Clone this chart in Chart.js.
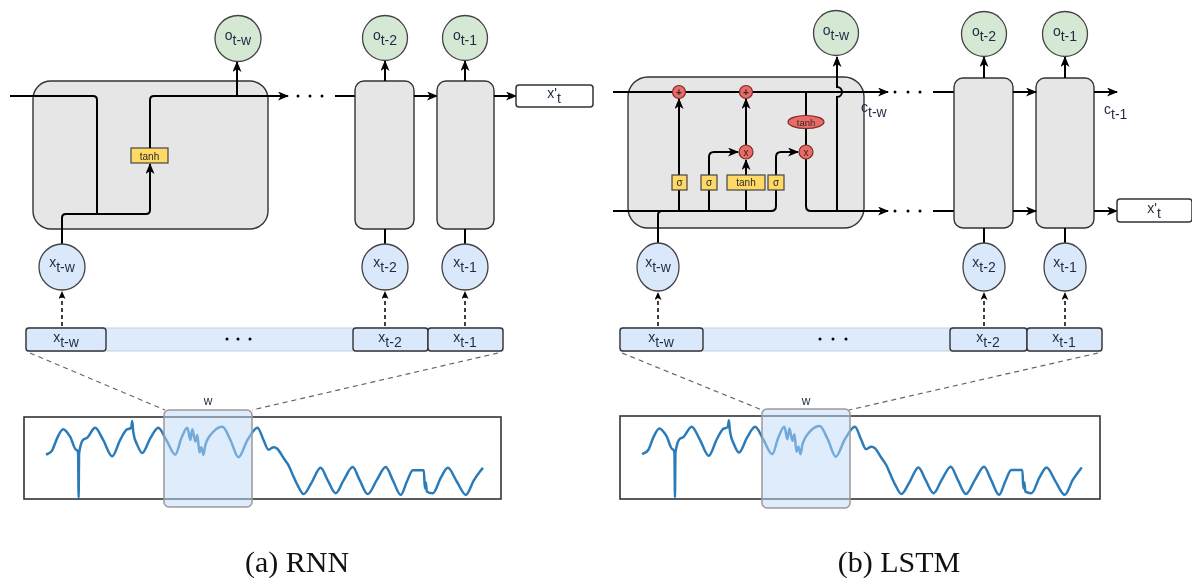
<!DOCTYPE html>
<html>
<head>
<meta charset="utf-8">
<script src="https://cdn.jsdelivr.net/npm/chart.js@4.4.0/dist/chart.umd.min.js"></script>
<style>
  html, body { margin: 0; padding: 0; background: #fff; }
  #page { position: relative; width: 1192px; height: 578px; overflow: hidden; }
  .plot { position: absolute; }
  #diagram { position: absolute; left: 0; top: 0; }
  .ln { fill: none; stroke: #000; stroke-width: 2; }
  .cell { fill: #e6e6e6; stroke: #333; stroke-width: 1.4; }
  .oc { fill: #d5e8d4; stroke: #444; stroke-width: 1.3; }
  .xc { fill: #dae8fc; stroke: #444; stroke-width: 1.3; }
  .gate { fill: #ffd966; stroke: #444; stroke-width: 1.2; }
  .op { fill: #ea6b66; stroke: #7a2a27; stroke-width: 1.2; }
  .lbl { font-family: "Liberation Sans", Arial, sans-serif; font-size: 14px; fill: #1f2a44; }
  .small { font-family: "Liberation Sans", Arial, sans-serif; font-size: 10px; fill: #2a2a2a; }
  .dash { fill: none; stroke: #666; stroke-width: 1.2; stroke-dasharray: 5 4; }
  .darr { fill: none; stroke: #000; stroke-width: 1.5; stroke-dasharray: 4 3; }
  .bar { fill: #deebfb; stroke: #c4cfdc; stroke-width: 1; }
  .bcell { fill: #dae8fc; stroke: #333; stroke-width: 1.4; }
  .box { fill: none; stroke: #333; stroke-width: 1.6; }
  .win { fill: rgba(190, 218, 250, 0.5); stroke: #9a9a9a; stroke-width: 1.5; }
  .cap { font-family: "Liberation Serif", "DejaVu Serif", serif; font-size: 30px; fill: #111; }
</style>
</head>
<body>
<div id="page">
  <div class="plot" style="left:24px; top:417px;"><canvas id="rnnPlot" width="477" height="82"></canvas></div>
  <div class="plot" style="left:620px; top:416px;"><canvas id="lstmPlot" width="480" height="83"></canvas></div>

  <svg id="diagram" width="1192" height="578" viewBox="0 0 1192 578">
    <defs>
      <marker id="ah" markerWidth="11" markerHeight="9" refX="10" refY="4.5" orient="auto" markerUnits="userSpaceOnUse">
        <path d="M0,0 L11,4.5 L0,9 L3,4.5 Z" fill="#000"/>
      </marker>
      <marker id="ahs" markerWidth="8" markerHeight="7" refX="7" refY="3.5" orient="auto" markerUnits="userSpaceOnUse">
        <path d="M0,0 L8,3.5 L0,7 L2,3.5 Z" fill="#000"/>
      </marker>
    </defs>

    <!-- (a) RNN -->
    <rect class="cell" x="33" y="81" width="235" height="148" rx="18"/>
    <path class="ln" d="M10,96 H93 Q97,96 97,100 V214"/>
    <path class="ln" d="M62,244 V218 Q62,214 66,214 H146 Q150,214 150,210 V164" marker-end="url(#ah)"/>
    <rect class="gate" x="131" y="148" width="37" height="15"/>
    <text class="small" x="149.5" y="159.5" text-anchor="middle">tanh</text>
    <path class="ln" d="M150,148 V100 Q150,96 154,96 H288" marker-end="url(#ah)"/>
    <path class="ln" d="M237,96 V62" marker-end="url(#ah)"/>
    <circle class="oc" cx="238" cy="38.5" r="23"/>
    <text class="lbl" x="238" y="40" text-anchor="middle">o<tspan dy="5">t-w</tspan></text>

    <circle cx="298" cy="96" r="1.5"/><circle cx="310" cy="96" r="1.5"/><circle cx="322" cy="96" r="1.5"/>
    <path class="ln" d="M335,96 H356"/>
    <rect class="cell" x="355" y="81" width="59" height="148" rx="9"/>
    <path class="ln" d="M414,96 H437" marker-end="url(#ah)"/>
    <rect class="cell" x="437" y="81" width="57" height="148" rx="9"/>
    <path class="ln" d="M494,96 H516" marker-end="url(#ah)"/>
    <rect x="516" y="85" width="77" height="22" rx="3" fill="#fff" stroke="#333" stroke-width="1.5"/>
    <text class="lbl" x="554" y="98" text-anchor="middle">x'<tspan dy="5">t</tspan></text>

    <path class="ln" d="M385,81 V61" marker-end="url(#ah)"/>
    <path class="ln" d="M465,81 V61" marker-end="url(#ah)"/>
    <circle class="oc" cx="385" cy="38" r="22.5"/>
    <circle class="oc" cx="465" cy="38" r="22.5"/>
    <text class="lbl" x="385" y="40" text-anchor="middle">o<tspan dy="5">t-2</tspan></text>
    <text class="lbl" x="465" y="40" text-anchor="middle">o<tspan dy="5">t-1</tspan></text>

    <path class="ln" d="M385,244 V229"/>
    <path class="ln" d="M465,244 V229"/>
    <circle class="xc" cx="62" cy="267" r="23"/>
    <circle class="xc" cx="385" cy="267" r="23"/>
    <circle class="xc" cx="465" cy="267" r="23"/>
    <text class="lbl" x="62" y="267" text-anchor="middle">x<tspan dy="5">t-w</tspan></text>
    <text class="lbl" x="385" y="267" text-anchor="middle">x<tspan dy="5">t-2</tspan></text>
    <text class="lbl" x="465" y="267" text-anchor="middle">x<tspan dy="5">t-1</tspan></text>

    <path class="darr" d="M62,326 V292" marker-end="url(#ahs)"/>
    <path class="darr" d="M385,326 V292" marker-end="url(#ahs)"/>
    <path class="darr" d="M465,326 V292" marker-end="url(#ahs)"/>

    <rect class="bar" x="26" y="328" width="477" height="23"/>
    <rect class="bcell" x="26" y="328" width="80" height="23" rx="3"/>
    <rect class="bcell" x="353" y="328" width="75" height="23" rx="3"/>
    <rect class="bcell" x="428" y="328" width="75" height="23" rx="3"/>
    <text class="lbl" x="66" y="342" text-anchor="middle">x<tspan dy="5">t-w</tspan></text>
    <text class="lbl" x="390" y="342" text-anchor="middle">x<tspan dy="5">t-2</tspan></text>
    <text class="lbl" x="465" y="342" text-anchor="middle">x<tspan dy="5">t-1</tspan></text>
    <circle cx="227" cy="339" r="1.5"/><circle cx="238" cy="339" r="1.5"/><circle cx="250" cy="339" r="1.5"/>

    <path class="dash" d="M30,353 L165,410"/>
    <path class="dash" d="M498,353 L252,410"/>
    <text class="lbl" x="208" y="405" text-anchor="middle" style="font-size:12px">w</text>
    <rect class="box" x="24" y="417" width="477" height="82"/>
    <rect class="win" x="164" y="410" width="88" height="97" rx="5"/>

    <!-- (b) LSTM -->
    <rect class="cell" x="628" y="77" width="236" height="151" rx="20"/>
    <path class="ln" d="M613,92 H888" marker-end="url(#ah)"/>
    <path class="ln" d="M806,92 V145"/>
    <path class="ln" d="M806,159 V206 Q806,211 811,211 H888" marker-end="url(#ah)"/>
    <path class="ln" d="M613,211 H771 Q776,211 776,206 V157 Q776,152 781,152 H798" marker-end="url(#ah)"/>
    <path class="ln" d="M679,211 V99" marker-end="url(#ah)"/>
    <path class="ln" d="M709,211 V157 Q709,152 714,152 H738" marker-end="url(#ah)"/>
    <path class="ln" d="M746,211 V160" marker-end="url(#ah)"/>
    <path class="ln" d="M746,145 V99" marker-end="url(#ah)"/>
    <path class="ln" d="M658,243 V215 Q658,211 662,211"/>
    <path class="ln" d="M837,211 V97 A5,5 0 0 0 837,87 V57" marker-end="url(#ah)"/>

    <ellipse class="op" cx="806" cy="122" rx="18" ry="6.5"/>
    <text class="small" x="806" y="125.5" text-anchor="middle" style="font-size:9.5px">tanh</text>
    <circle class="op" cx="679" cy="92" r="6.5"/>
    <circle class="op" cx="746" cy="92" r="6.5"/>
    <circle class="op" cx="746" cy="152" r="7"/>
    <circle class="op" cx="806" cy="152" r="7"/>
    <text class="small" x="679" y="96" text-anchor="middle" style="font-weight:bold">+</text>
    <text class="small" x="746" y="96" text-anchor="middle" style="font-weight:bold">+</text>
    <text class="small" x="746" y="155.5" text-anchor="middle">x</text>
    <text class="small" x="806" y="155.5" text-anchor="middle">x</text>

    <rect class="gate" x="672" y="175" width="15" height="15"/>
    <rect class="gate" x="701" y="175" width="16" height="15"/>
    <rect class="gate" x="727" y="175" width="38" height="15"/>
    <rect class="gate" x="768" y="175" width="16" height="15"/>
    <text class="small" x="679.5" y="186" text-anchor="middle">σ</text>
    <text class="small" x="709" y="186" text-anchor="middle">σ</text>
    <text class="small" x="746" y="186" text-anchor="middle">tanh</text>
    <text class="small" x="776" y="186" text-anchor="middle">σ</text>

    <circle class="oc" cx="836" cy="33" r="22.5"/>
    <text class="lbl" x="836" y="35" text-anchor="middle">o<tspan dy="5">t-w</tspan></text>
    <text class="lbl" x="861" y="112">c<tspan dy="5">t-w</tspan></text>

    <circle cx="895" cy="92" r="1.5"/><circle cx="908" cy="92" r="1.5"/><circle cx="920" cy="92" r="1.5"/>
    <circle cx="895" cy="211" r="1.5"/><circle cx="908" cy="211" r="1.5"/><circle cx="920" cy="211" r="1.5"/>
    <path class="ln" d="M933,92 H955"/>
    <path class="ln" d="M933,211 H955"/>
    <rect class="cell" x="954" y="78" width="59" height="150" rx="9"/>
    <rect class="cell" x="1036" y="78" width="58" height="150" rx="9"/>
    <path class="ln" d="M1013,92 H1036" marker-end="url(#ah)"/>
    <path class="ln" d="M1013,211 H1036" marker-end="url(#ah)"/>
    <path class="ln" d="M1094,92 H1117" marker-end="url(#ah)"/>
    <path class="ln" d="M1094,211 H1117" marker-end="url(#ah)"/>
    <text class="lbl" x="1104" y="114">c<tspan dy="5">t-1</tspan></text>
    <rect x="1117" y="199" width="75" height="23" rx="3" fill="#fff" stroke="#333" stroke-width="1.5"/>
    <text class="lbl" x="1154" y="213" text-anchor="middle">x'<tspan dy="5">t</tspan></text>

    <path class="ln" d="M984,78 V57" marker-end="url(#ah)"/>
    <path class="ln" d="M1065,78 V57" marker-end="url(#ah)"/>
    <circle class="oc" cx="984" cy="34" r="22.5"/>
    <circle class="oc" cx="1065" cy="34" r="22.5"/>
    <text class="lbl" x="984" y="36" text-anchor="middle">o<tspan dy="5">t-2</tspan></text>
    <text class="lbl" x="1065" y="36" text-anchor="middle">o<tspan dy="5">t-1</tspan></text>

    <path class="ln" d="M984,243 V228"/>
    <path class="ln" d="M1065,243 V228"/>
    <ellipse class="xc" cx="658" cy="267" rx="21" ry="24"/>
    <ellipse class="xc" cx="984" cy="267" rx="21" ry="24"/>
    <ellipse class="xc" cx="1065" cy="267" rx="21" ry="24"/>
    <text class="lbl" x="658" y="267" text-anchor="middle">x<tspan dy="5">t-w</tspan></text>
    <text class="lbl" x="984" y="267" text-anchor="middle">x<tspan dy="5">t-2</tspan></text>
    <text class="lbl" x="1065" y="267" text-anchor="middle">x<tspan dy="5">t-1</tspan></text>

    <path class="darr" d="M658,326 V293" marker-end="url(#ahs)"/>
    <path class="darr" d="M984,326 V293" marker-end="url(#ahs)"/>
    <path class="darr" d="M1065,326 V293" marker-end="url(#ahs)"/>

    <rect class="bar" x="620" y="328" width="482" height="23"/>
    <rect class="bcell" x="620" y="328" width="83" height="23" rx="3"/>
    <rect class="bcell" x="950" y="328" width="77" height="23" rx="3"/>
    <rect class="bcell" x="1027" y="328" width="75" height="23" rx="3"/>
    <text class="lbl" x="661" y="342" text-anchor="middle">x<tspan dy="5">t-w</tspan></text>
    <text class="lbl" x="988" y="342" text-anchor="middle">x<tspan dy="5">t-2</tspan></text>
    <text class="lbl" x="1064" y="342" text-anchor="middle">x<tspan dy="5">t-1</tspan></text>
    <circle cx="820" cy="339" r="1.5"/><circle cx="833" cy="339" r="1.5"/><circle cx="846" cy="339" r="1.5"/>

    <path class="dash" d="M622,353 L762,410"/>
    <path class="dash" d="M1098,353 L849,410"/>
    <text class="lbl" x="806" y="405" text-anchor="middle" style="font-size:12px">w</text>
    <rect class="box" x="620" y="416" width="480" height="83"/>
    <rect class="win" x="762" y="409" width="88" height="99" rx="5"/>

    <text class="cap" x="297" y="572" text-anchor="middle">(a) RNN</text>
    <text class="cap" x="899" y="572" text-anchor="middle">(b) LSTM</text>
  </svg>
</div>

<script>
// sample positions along the window (x) and signal level (0 = bottom, 100 = top)
const times = [22, 28, 33, 39, 46, 52, 54, 54.5, 55, 62,
  71, 79, 88, 96, 103, 107, 108, 109, 113, 118,
  126, 134, 142, 151, 157, 163, 166, 168, 171, 173,
  175, 177, 179, 181, 189, 198, 206, 214, 223, 233,
  239, 244, 249, 253, 259, 264, 268, 273, 279, 287,
  296, 303, 311, 319, 328, 335, 343, 352, 361, 368,
  376, 382, 388, 394, 399, 400, 401, 402, 408, 416,
  423, 432, 441, 449, 456, 458];
const values = [54, 59, 74, 85, 76, 60, 56, 2, 56, 74,
  87, 72, 52, 72, 85, 87, 95, 82, 66, 56,
  74, 87, 72, 54, 74, 87, 72, 85, 70, 78,
  57, 63, 54, 66, 82, 88, 72, 51, 72, 87,
  72, 60, 63, 61, 50, 41, 30, 17, 6, 20,
  38, 23, 7, 23, 39, 23, 6, 23, 39, 23,
  5, 21, 35, 35, 35, 13, 20, 9, 7, 26,
  38, 21, 5, 23, 35, 38];
const timeRange = [0, 476];
const valueRange = [0, 100];

function drawSeries(id) {
  const points = times.map((t, i) => ({ x: t, y: values[i] }));
  return new Chart(document.getElementById(id), {
    type: "line",
    data: {
      datasets: [{
        data: points,
        borderColor: "#2b7bb9",
        borderWidth: 2.5,
        pointRadius: 0,
        cubicInterpolationMode: "monotone",
        fill: false
      }]
    },
    options: {
      responsive: false,
      animation: false,
      layout: { padding: 0 },
      plugins: { legend: { display: false }, tooltip: { enabled: false } },
      scales: {
        x: { type: "linear", min: timeRange[0], max: timeRange[1], display: false },
        y: { min: valueRange[0], max: valueRange[1], display: false }
      }
    }
  });
}

drawSeries("rnnPlot");
drawSeries("lstmPlot");
</script>
</body>
</html>
